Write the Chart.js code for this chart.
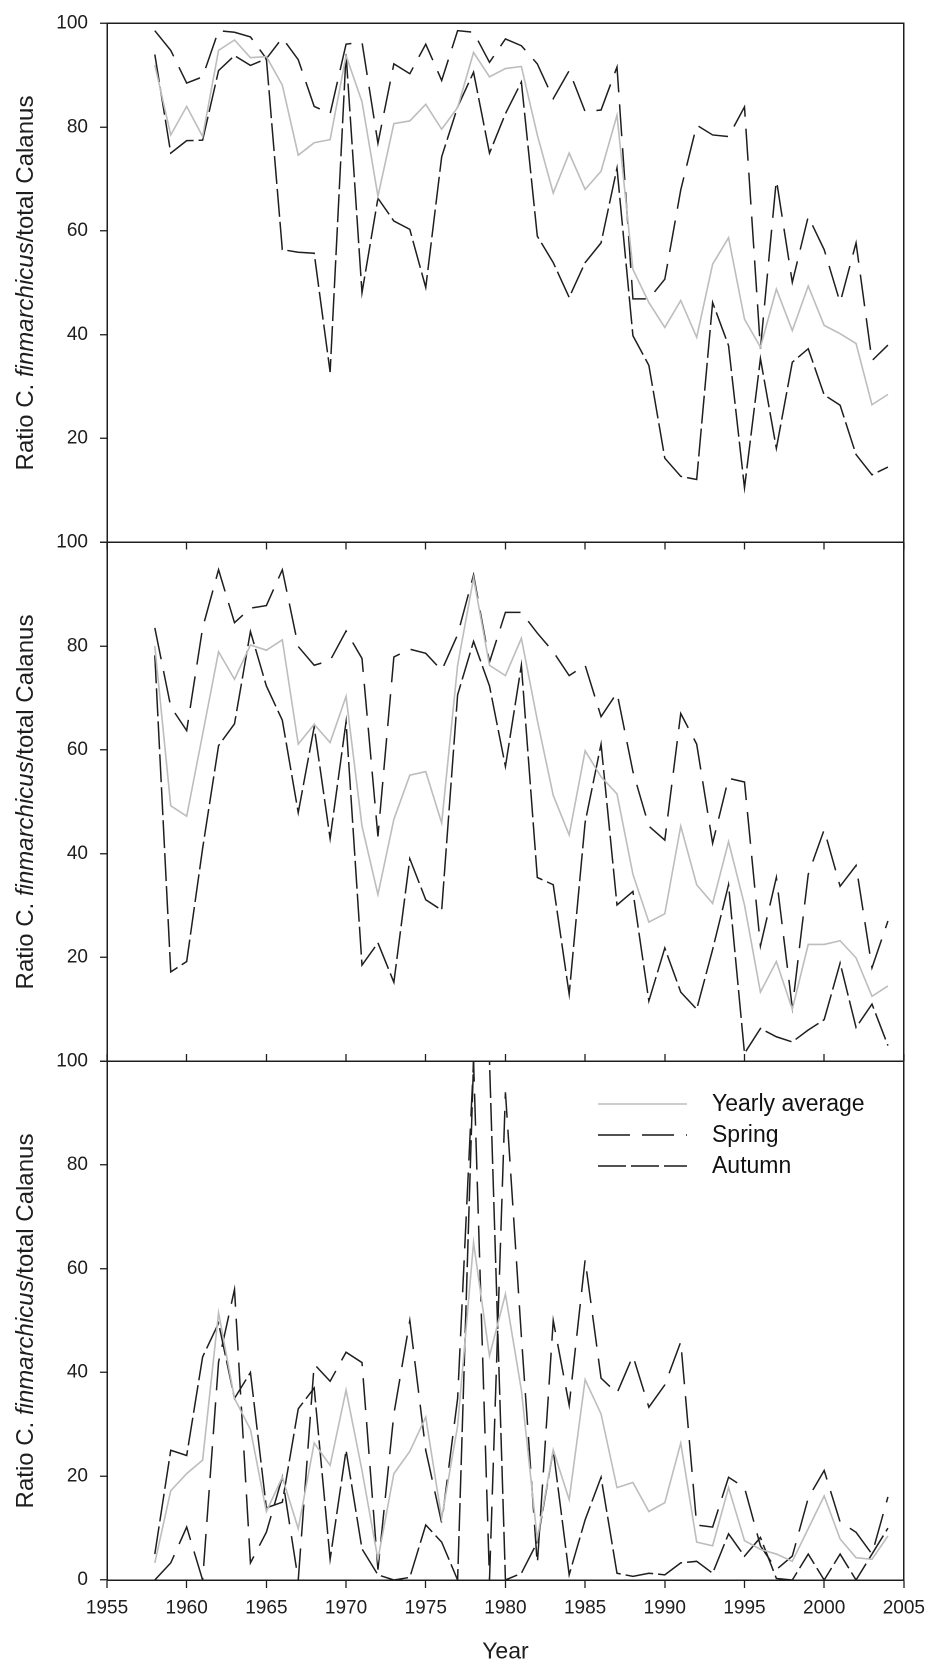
<!DOCTYPE html>
<html>
<head>
<meta charset="utf-8">
<script src="https://cdn.jsdelivr.net/npm/chart.js@4.4.1/dist/chart.umd.min.js"></script>
<style>
  html, body { margin: 0; padding: 0; background: #ffffff; }
  #wrap { position: relative; width: 934px; height: 1666px; }
  #c { position: absolute; left: 0; top: 0; }
  .ytitle {
    position: absolute; white-space: nowrap; color: #1e1e1e;
    font-family: "Liberation Sans", Arial, sans-serif; font-size: 24px;
    transform: translate(-50%, -50%) rotate(-90deg);
  }
  #legend {
    position: absolute; left: 598px; top: 1088px;
    font-family: "Liberation Sans", Arial, sans-serif; font-size: 23px; color: #111;
  }
  #legend .row { display: flex; align-items: center; height: 31px; }
  #legend svg { width: 90px; height: 10px; margin-right: 24px; }
</style>
</head>
<body>
<div id="wrap">
  <canvas id="c" width="934" height="1666"></canvas>
  <div class="ytitle" id="tTop">Ratio C. <i>finmarchicus</i>/total Calanus</div>
  <div class="ytitle" id="tMid">Ratio C. <i>finmarchicus</i>/total Calanus</div>
  <div class="ytitle" id="tBot">Ratio C. <i>finmarchicus</i>/total Calanus</div>
  <div id="legend">
    <div class="row"><svg viewBox="0 0 90 10"><line x1="0" y1="5" x2="89" y2="5" stroke="#bdbdbd" stroke-width="1.6"/></svg><span>Yearly average</span></div>
    <div class="row"><svg viewBox="0 0 90 10"><line x1="0" y1="5" x2="89" y2="5" stroke="#1a1a1a" stroke-width="1.5" stroke-dasharray="32 12"/></svg><span>Spring</span></div>
    <div class="row"><svg viewBox="0 0 90 10"><line x1="0" y1="5" x2="89" y2="5" stroke="#1a1a1a" stroke-width="1.5" stroke-dasharray="28 5"/></svg><span>Autumn</span></div>
  </div>
</div>
<script>
// ---------------- data ----------------
const YEARS = [1958,1959,1960,1961,1962,1963,1964,1965,1966,1967,
               1968,1969,1970,1971,1972,1973,1974,1975,1976,1977,
               1978,1979,1980,1981,1982,1983,1984,1985,1986,1987,
               1988,1989,1990,1991,1992,1993,1994,1995,1996,1997,
               1998,1999,2000,2001,2002,2003,2004];

const X_TICKS = [1955,1960,1965,1970,1975,1980,1985,1990,1995,2000,2005];
const Y_TICKS = [0,20,40,60,80,100];

// Top panel
const TOP_AVG = [92,78.5,84,78.2,94.8,96.8,93.4,93.6,88.1,74.6,
                 77,77.6,93.8,84.9,66.7,80.7,81.2,84.4,79.6,83.8,
                 94.4,89.7,91.3,91.7,78.5,67.3,75,68,71.5,82.3,
                 52.6,46.2,41.4,46.6,39.5,53.6,58.7,43,37.6,48.8,
                 40.8,49.4,41.8,40.2,38.3,26.5,28.5];
const TOP_SPRING = [98.6,94.8,88.5,89.7,98.6,98.3,97.4,93.2,97.2,93,
                    84,82.6,96,96.4,76.9,92.2,90.3,96,89,98.6,
                    98.3,92.5,97,95.7,92.2,85.5,90.9,83,83.3,91.6,
                    46.9,46.9,50.7,67.9,80.4,78.5,78.2,83.9,37.3,69.9,
                    50.1,62.8,56.4,46.2,57.7,35,38];
const TOP_AUTUMN = [94,75,77.4,77.5,90.9,93.8,91.9,93.2,56.4,55.9,
                    55.7,32.8,94.1,48.1,66.3,61.9,60.3,49.1,74.3,83.9,
                    90.6,75,82.6,88.7,59,53.9,47.2,53.9,57.7,72.1,
                    39.8,34.1,16.2,12.7,12.1,46.2,37.9,10.5,35.4,18.1,
                    34.7,37.3,28.4,26.4,16.9,13,14.5];

// Middle panel
const MID_AVG = [80,49.2,47.2,63,78.9,73.6,80.2,79.2,81.2,61.1,
                 64.9,61.4,70.3,45.3,32.1,46.6,55.1,55.8,45.9,76.3,
                 93.1,76.3,74.3,81.5,65.7,51.2,43.6,59.8,54.8,51.5,
                 36,26.8,28.4,45.3,34,30.4,42.3,30.1,13.3,19.2,
                 10,22.5,22.5,23.2,19.9,12.5,14.5];
const MID_SPRING = [83.5,68.3,63.7,83.5,94.7,84.5,87.3,87.8,94.7,79.9,
                    76.3,77.2,82.9,77.6,43.3,77.9,79.4,78.6,75.3,82.2,
                    93.7,76.9,86.5,86.5,82.5,78.9,74.3,76.3,66.4,71,
                    55.8,45.3,42.6,67,61.1,42,54.5,53.8,22.2,35.4,
                    10.3,36,44.6,33.7,37.7,18,27];
const MID_AUTUMN = [78.2,17.2,19.2,41,60.8,65,82.8,72.3,65.7,47.9,
                    64.4,42.9,65.4,18.5,22.8,15.2,39,31.1,29.1,70.6,
                    80.9,72.3,56.8,76.3,35.4,34,12.9,46,61.1,30.1,
                    32.7,11.6,21.8,13.3,10,21.5,34,1.5,6.3,4.7,
                    3.7,6,8,18.9,6.5,11,3];

// Bottom panel
const BOT_AVG = [3.3,17.2,20.5,23.1,51.5,35,29,13.2,19.8,9.9,
                 26.4,22.1,36.6,21.1,4,20.5,24.8,31.4,11.9,29.7,
                 65,43.2,55.1,36.6,7.9,25.1,15.5,38.6,32,17.8,
                 18.8,13.2,14.9,26.4,7.3,6.6,17.8,7.6,5.9,5,
                 3.6,9.9,16.2,7.9,4.3,4,8.5];
const BOT_SPRING = [0,3.3,10.2,0,42,56,3.3,9.2,19.8,0,
                    41.6,38.3,43.9,41.9,2,32,50,25,11,35,
                    100,0,94,47,3,50,33.7,61.7,38.9,36,
                    43.2,33.3,37.6,45.9,10.6,10.2,19.8,17.8,6.6,2,
                    4.6,15.8,21.1,11.2,9.2,5,16];
const BOT_AUTUMN = [5,25,24,43,49.5,35,40,13.9,15,33,
                    37,4,25,6,1,0,0.5,10.6,7.3,0,
                    100,100,0,1.3,7.3,25,1,11.6,19.8,1.3,
                    0.7,1.3,1,3.3,3.6,1.3,8.9,4.6,8.2,0.3,
                    0,5,0,5,0,5,10];

// ---------------- styles ----------------
const FONT = '"Liberation Sans", Arial, sans-serif';
const INK = '#1e1e1e';
const GRAY = '#bdbdbd';

function pts(vals) { return YEARS.map((yr, i) => ({ x: yr, y: vals[i] })); }
function avgSet(vals, axis) {
  return { label: 'Yearly average', data: pts(vals), yAxisID: axis, borderColor: GRAY, borderWidth: 1.6,
           pointRadius: 0, tension: 0, fill: false };
}
function springSet(vals, axis) {
  return { label: 'Spring', data: pts(vals), yAxisID: axis, borderColor: INK, borderWidth: 1.5,
           borderDash: [32, 12], pointRadius: 0, tension: 0, fill: false };
}
function autumnSet(vals, axis) {
  return { label: 'Autumn', data: pts(vals), yAxisID: axis, borderColor: INK, borderWidth: 1.5,
           borderDash: [28, 5], pointRadius: 0, tension: 0, fill: false };
}

function yAxis(showZero) {
  return {
    type: 'linear', position: 'left', stack: 'panels', stackWeight: 1,
    min: 0, max: 100,
    afterBuildTicks(s) { s.ticks = Y_TICKS.map(v => ({ value: v })); },
    ticks: {
      padding: 12, color: INK, font: { family: FONT, size: 19 },
      callback: v => (v === 0 && !showZero) ? '' : String(v)
    },
    grid: {
      drawOnChartArea: true, drawTicks: true, tickLength: 7, tickColor: INK, tickWidth: 1.3,
      lineWidth: 1.5,
      color: ctx => (ctx.tick && ctx.tick.value === 100) ? INK : 'rgba(0,0,0,0)'
    },
    border: { display: true, color: INK, width: 1.5 },
    afterFit(s) { s.width = 107; }
  };
}

function tickOnlyX(pos, len) {
  return {
    type: 'linear', axis: 'x', position: pos, min: 1955, max: 2005,
    afterBuildTicks(s) { s.ticks = X_TICKS.map(v => ({ value: v })); },
    ticks: { display: false },
    grid: { drawOnChartArea: false, drawTicks: true, tickLength: len, tickColor: INK, tickWidth: 1.3 },
    border: { display: false }
  };
}

const titlePlugin = {
  id: 'titlePlace',
  afterRender(chart) {
    const place = (id, sc) => {
      const el = document.getElementById(id);
      el.style.left = '25px';
      el.style.top = ((sc.top + sc.bottom) / 2) + 'px';
    };
    place('tTop', chart.scales.yTop);
    place('tMid', chart.scales.yMid);
    place('tBot', chart.scales.yBot);
  }
};

new Chart(document.getElementById('c'), {
  type: 'line',
  data: {
    datasets: [
      avgSet(TOP_AVG, 'yTop'), springSet(TOP_SPRING, 'yTop'), autumnSet(TOP_AUTUMN, 'yTop'),
      avgSet(MID_AVG, 'yMid'), springSet(MID_SPRING, 'yMid'), autumnSet(MID_AUTUMN, 'yMid'),
      avgSet(BOT_AVG, 'yBot'), springSet(BOT_SPRING, 'yBot'), autumnSet(BOT_AUTUMN, 'yBot')
    ]
  },
  options: {
    responsive: false,
    animation: false,
    devicePixelRatio: 2,
    layout: { padding: { top: 16, right: 27, bottom: 0, left: 0 } },
    plugins: { legend: { display: false }, tooltip: { enabled: false } },
    scales: {
      x: {
        type: 'linear', position: 'bottom', min: 1955, max: 2005,
        afterBuildTicks(s) { s.ticks = X_TICKS.map(v => ({ value: v })); },
        ticks: { padding: 9, color: INK, font: { family: FONT, size: 19 }, callback: v => String(v), maxRotation: 0 },
        grid: { drawOnChartArea: false, drawTicks: true, tickLength: 8, tickColor: INK, tickWidth: 1.3 },
        border: { display: true, color: INK, width: 1.5 },
        title: { display: true, text: 'Year', color: INK, font: { family: FONT, size: 23 }, padding: { top: 0, bottom: 0 } },
        afterFit(s) { s.height = 86; }
      },
      yBot: yAxis(true),
      yMid: yAxis(false),
      yTop: yAxis(false),
      yR: {
        type: 'linear', position: 'right', min: 0, max: 100,
        ticks: { display: false },
        grid: { drawOnChartArea: false, drawTicks: false },
        border: { display: true, color: INK, width: 1.5 }
      },
      xT1: tickOnlyX({ yTop: 0 }, 7),
      xT2: tickOnlyX({ yBot: 100 }, -7)
    }
  },
  plugins: [titlePlugin]
});
</script>
</body>
</html>
